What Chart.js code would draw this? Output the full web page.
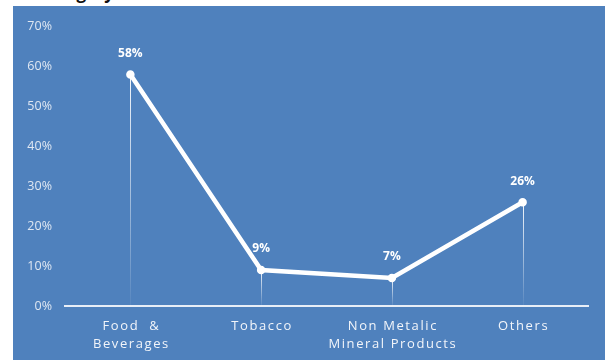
<!DOCTYPE html>
<html>
<head>
<meta charset="utf-8">
<script src="https://cdn.jsdelivr.net/npm/chart.js@4.4.0/dist/chart.umd.min.js"></script>
<style>
    body { margin: 0; width: 605px; height: 360px; background: #fff; overflow: hidden; position: relative; font-family: "Open Sans", sans-serif; }
    .title { position: absolute; left: 38px; top: -19px; font-size: 17px; font-weight: bold; color: #111; }
    .box { position: absolute; left: 13px; top: 6px; width: 592px; height: 354px; background: #4f81bd; }
</style>
</head>
<body>
<div class="title">Category wise</div>
<div class="box"><canvas id="sectorChart" width="592" height="354"></canvas></div>
<script>
var categories = [["Food  &", "Beverages"], "Tobacco", ["Non Metalic", "Mineral Products"], "Others"];
var shares = [58, 9, 7, 26];
var yTicks = [0, 10, 20, 30, 40, 50, 60, 70];

// thin fading lines from each point down to the axis, plus the value labels
var dropLines = {
    id: "dropLines",
    beforeDatasetsDraw: function (chart) {
        var ctx = chart.ctx;
        var meta = chart.getDatasetMeta(0);
        var base = chart.scales.y.getPixelForValue(0);
        ctx.save();
        meta.data.forEach(function (pt) {
            var grad = ctx.createLinearGradient(0, pt.y, 0, base);
            grad.addColorStop(0, "rgba(255,255,255,0.95)");
            grad.addColorStop(1, "rgba(255,255,255,0.05)");
            ctx.strokeStyle = grad;
            ctx.lineWidth = 1;
            ctx.beginPath();
            ctx.moveTo(Math.round(pt.x) + 0.5, pt.y);
            ctx.lineTo(Math.round(pt.x) + 0.5, base);
            ctx.stroke();
        });
        ctx.restore();
    },
    afterDraw: function (chart) {
        var ctx = chart.ctx;
        var meta = chart.getDatasetMeta(0);
        var xs = chart.scales.x;
        ctx.save();
        ctx.fillStyle = "#ffffff";
        ctx.textAlign = "center";
        ctx.textBaseline = "middle";
        ctx.font = "bold 12px 'Open Sans'";
        meta.data.forEach(function (pt, i) {
            ctx.fillText(shares[i] + "%", pt.x, pt.y - 21);
        });
        // category labels with letter spacing
        ctx.font = "13px 'Open Sans'";
        ctx.fillStyle = "#f2f5fa";
        ctx.letterSpacing = "1.6px";
        categories.forEach(function (c, i) {
            var lines = Array.isArray(c) ? c : [c];
            var x = xs.getPixelForValue(i);
            lines.forEach(function (t, j) {
                ctx.fillText(t, x + 1, chart.chartArea.bottom + 20 + j * 18);
            });
        });
        ctx.restore();
    }
};

var ctx = document.getElementById("sectorChart").getContext("2d");
new Chart(ctx, {
    type: "line",
    data: {
        labels: categories,
        datasets: [{
            data: shares,
            borderColor: "#ffffff",
            borderWidth: 4.5,
            pointRadius: 2,
            pointBackgroundColor: "#ffffff",
            pointBorderColor: "#ffffff",
            tension: 0,
            fill: false
        }]
    },
    options: {
        responsive: false,
        animation: false,
        layout: { padding: { top: 19, right: 17, left: 0, bottom: 0 } },
        plugins: {
            legend: { display: false },
            tooltip: { enabled: false }
        },
        scales: {
            x: {
                offset: true,
                grid: { display: false, drawTicks: false },
                border: { display: true, color: "#e8eef7", width: 2 },
                ticks: { color: "rgba(0,0,0,0)", font: { size: 13 } },
                afterFit: function (s) { s.height = 54; }
            },
            y: {
                min: 0,
                max: 70,
                afterBuildTicks: function (s) {
                    s.ticks = yTicks.map(function (v) { return { value: v }; });
                },
                grid: { display: false, drawTicks: false },
                border: { display: false },
                ticks: {
                    color: "#dfe7f2",
                    padding: 13,
                    font: { family: "'Open Sans'", size: 12.5 },
                    callback: function (v) { return v + "%"; }
                },
                afterFit: function (s) { s.width = 52; }
            }
        }
    },
    plugins: [dropLines]
});
</script>
</body>
</html>
